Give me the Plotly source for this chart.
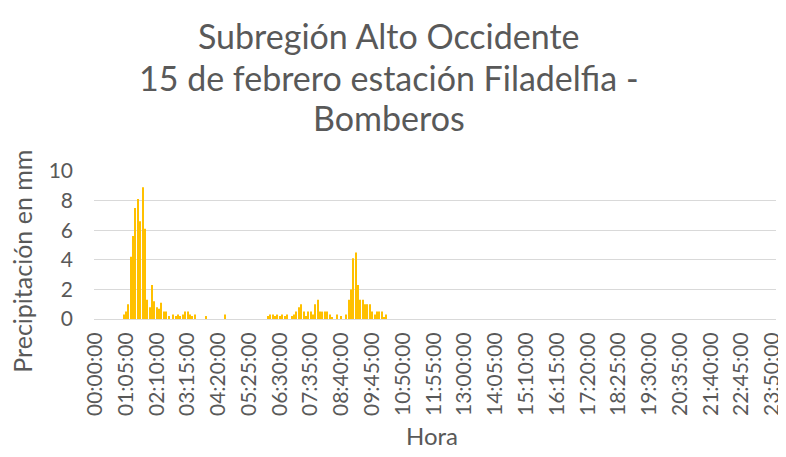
import plotly.graph_objects as go

# 5-minute categories for the whole day
categories = [f"{h:02d}:{m:02d}:00" for h in range(24) for m in range(0, 60, 5)]

# Non-zero readings (all other intervals are 0 mm)
rain_times = [
    "01:00:00", "01:05:00", "01:10:00", "01:15:00", "01:20:00", "01:25:00", "01:30:00",
    "01:35:00", "01:40:00", "01:45:00", "01:50:00", "01:55:00", "02:00:00", "02:05:00",
    "02:10:00", "02:15:00", "02:20:00", "02:25:00", "02:30:00", "02:35:00", "02:45:00",
    "02:50:00", "02:55:00", "03:00:00", "03:05:00", "03:10:00", "03:15:00", "03:20:00",
    "03:25:00", "03:30:00", "03:55:00", "04:35:00",
    "06:05:00", "06:10:00", "06:15:00", "06:20:00", "06:25:00", "06:30:00", "06:35:00",
    "06:40:00", "06:45:00", "06:55:00", "07:00:00", "07:05:00", "07:10:00", "07:15:00",
    "07:20:00", "07:25:00", "07:30:00", "07:35:00", "07:40:00", "07:45:00", "07:50:00",
    "07:55:00", "08:00:00", "08:05:00", "08:10:00", "08:15:00", "08:20:00", "08:30:00",
    "08:40:00", "08:50:00", "08:55:00", "09:00:00", "09:05:00", "09:10:00", "09:15:00",
    "09:20:00", "09:25:00", "09:30:00", "09:35:00", "09:40:00", "09:45:00", "09:50:00",
    "09:55:00", "10:00:00", "10:05:00", "10:10:00", "10:15:00",
]
rain_mm = [
    0.3, 0.5, 1.0, 4.2, 5.6, 7.5, 8.1,
    6.6, 8.9, 6.1, 1.3, 0.8, 2.3, 1.2,
    0.8, 0.7, 1.1, 0.5, 0.5, 0.2, 0.3,
    0.2, 0.3, 0.2, 0.3, 0.5, 0.5, 0.3,
    0.2, 0.3, 0.2, 0.3,
    0.2, 0.3, 0.3, 0.2, 0.3, 0.2, 0.3,
    0.2, 0.3, 0.2, 0.3, 0.5, 0.8, 1.0,
    0.5, 0.2, 0.5, 0.5, 0.3, 1.0, 1.3,
    0.5, 0.5, 0.5, 0.5, 0.3, 0.1, 0.3,
    0.2, 0.3, 1.3, 2.0, 4.1, 4.5, 2.3,
    1.3, 1.3, 1.0, 1.0, 1.0, 0.5, 0.3,
    0.5, 0.5, 0.5, 0.1, 0.3,
]

title_lines = ["Subregión Alto Occidente", "15 de febrero estación Filadelfia -", "Bomberos"]
x_title = "Hora"
y_title = "Precipitación en mm"

lookup = dict(zip(rain_times, rain_mm))
values = [lookup.get(c, 0.0) for c in categories]

tick_labels = categories[::13]
y_ticks = [0, 2, 4, 6, 8, 10]

FONT = "Lato"
GRAY = "#595959"

fig = go.Figure(
    go.Bar(x=categories, y=values, marker=dict(color="#FFC000", line=dict(width=0)))
)

# page is offset 8px by the default body margin
fig.update_layout(
    width=786,
    height=457,
    paper_bgcolor="white",
    plot_bgcolor="white",
    showlegend=False,
    bargap=0.55,
    margin=dict(l=86, r=17.6, t=163, b=145.5, autoexpand=False),
    font=dict(family=FONT, color=GRAY),
    xaxis=dict(
        type="category",
        categoryorder="array",
        categoryarray=categories,
        tickmode="array",
        tickvals=tick_labels,
        ticktext=tick_labels,
        tickangle=-90,
        tickfont=dict(family=FONT, size=21, color=GRAY),
        ticklabelstandoff=4,
        showgrid=False,
        showline=True,
        linecolor="#D9D9D9",
        linewidth=1,
        ticks="",
        automargin=False,
    ),
    yaxis=dict(
        range=[0, 10],
        tickvals=y_ticks,
        tickfont=dict(family=FONT, size=21, color=GRAY),
        showgrid=True,
        gridcolor="#D9D9D9",
        gridwidth=1,
        zeroline=False,
        ticks="",
        ticklabelstandoff=20,
        automargin=False,
    ),
)

title_y = [1.913, 1.633, 1.362]
annotations = [
    dict(text=t, x=0.432, y=yy, xref="paper", yref="paper", xanchor="center", yanchor="middle",
         showarrow=False, font=dict(family=FONT, size=34, color=GRAY))
    for t, yy in zip(title_lines, title_y)
]
annotations.append(dict(text=x_title, x=0.496, y=-0.79, xref="paper", yref="paper",
                        xanchor="center", yanchor="middle", showarrow=False,
                        font=dict(family=FONT, size=24, color=GRAY)))
annotations.append(dict(text=y_title, x=-0.105, y=0.39, xref="paper", yref="paper",
                        xanchor="center", yanchor="middle", textangle=-90, showarrow=False,
                        font=dict(family=FONT, size=25, color=GRAY)))
fig.update_layout(annotations=annotations)

fig.write_html("out.html")
